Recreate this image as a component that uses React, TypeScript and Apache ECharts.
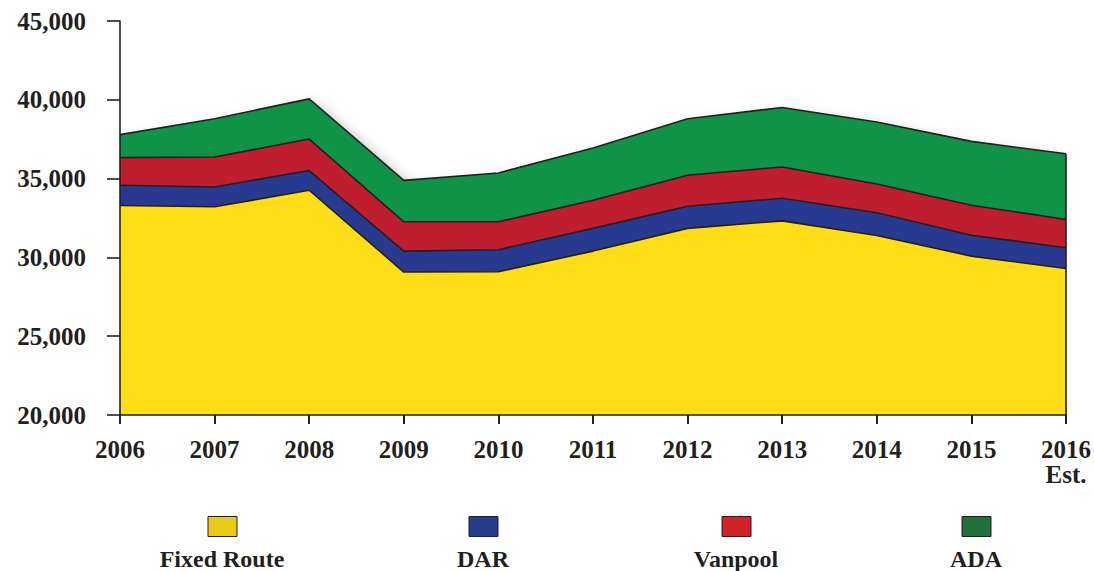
import React, { useEffect, useRef } from "react";
import * as echarts from "echarts";

const years = ["2006", "2007", "2008", "2009", "2010", "2011", "2012", "2013", "2014", "2015", "2016\nEst."];
const seriesNames = ["Fixed Route", "DAR", "Vanpool", "ADA"];
const fixedRoute = [33290, 33210, 34260, 29070, 29090, 30400, 31840, 32320, 31390, 30080, 29300];
const dar = [1290, 1260, 1250, 1330, 1400, 1440, 1410, 1430, 1440, 1330, 1310];
const vanpool = [1750, 1900, 2000, 1860, 1770, 1790, 1960, 1990, 1830, 1900, 1800];
const ada = [1460, 2430, 2550, 2630, 3100, 3310, 3590, 3770, 3930, 4050, 4170];
const yTicks = { min: 20000, max: 45000, interval: 5000 };

const areaColors = ["#FFDE17", "#283990", "#BE1E2D", "#0F9346"];
const legendColors = ["#EACA18", "#283C8E", "#D2232A", "#237038"];
const legendCenters = [222, 483, 736, 976];
const ink = "#231F20";
const fontFamily = "'Liberation Serif', 'Times New Roman', serif";

export default function App() {
  const ref = useRef<HTMLDivElement>(null);
  useEffect(() => {
    if (!ref.current) return;
    const chart = echarts.init(ref.current, undefined, { renderer: "svg" });
    const values = [fixedRoute, dar, vanpool, ada];
    const totals = years.map((_, i) => values.reduce((s, arr) => s + arr[i], 0));
    const stacked = seriesNames.map((name, k) => ({
      name,
      type: "line" as const,
      stack: "total",
      data: values[k],
      symbol: "none",
      z: 3,
      lineStyle: { color: ink, width: 1.6 },
      areaStyle: { color: areaColors[k], opacity: 1 },
      ...(k === seriesNames.length - 1
        ? {
            markLine: {
              silent: true,
              symbol: "none",
              label: { show: false },
              lineStyle: { color: ink, width: 1.6, type: "solid" },
              data: [
                [
                  { coord: [years[years.length - 1], yTicks.min] },
                  { coord: [years[years.length - 1], totals[totals.length - 1]] },
                ],
              ],
            },
          }
        : {}),
    }));
    const shadowSeries = {
      name: "shadow",
      type: "line" as const,
      data: totals,
      symbol: "none",
      z: 1,
      silent: true,
      lineStyle: { width: 0 },
      areaStyle: {
        color: "#ffffff",
        opacity: 1,
        shadowColor: "rgba(0,0,0,0.3)",
        shadowBlur: 14,
        shadowOffsetX: 7,
        shadowOffsetY: 7,
      },
    };
    const graphic: any[] = [];
    seriesNames.forEach((name, i) => {
      graphic.push({
        type: "rect",
        left: legendCenters[i] - 14.5,
        top: 516,
        shape: { width: 29, height: 20 },
        style: { fill: legendColors[i], stroke: ink, lineWidth: 1 },
      });
      graphic.push({
        type: "text",
        x: legendCenters[i],
        y: 558.5,
        style: {
          text: name,
          fill: ink,
          font: `bold 24px ${fontFamily}`,
          textAlign: "center",
          textVerticalAlign: "middle",
        },
      });
    });
    chart.setOption({
      animation: false,
      backgroundColor: "#ffffff",
      grid: { left: 120, right: 22, top: 21, bottom: 156, containLabel: false },
      xAxis: {
        type: "category",
        data: years,
        boundaryGap: false,
        axisLine: { show: true, lineStyle: { color: ink, width: 1.6 } },
        axisTick: { show: true, length: 9, lineStyle: { color: ink, width: 2 } },
        axisLabel: {
          color: ink,
          fontSize: 25,
          fontWeight: "bold",
          fontFamily,
          margin: 22,
          lineHeight: 25,
          interval: 0,
        },
        splitLine: { show: false },
        z: 5,
      },
      yAxis: {
        type: "value",
        min: yTicks.min,
        max: yTicks.max,
        interval: yTicks.interval,
        axisLine: { show: true, lineStyle: { color: ink, width: 1.6 } },
        axisTick: { show: true, length: 13, lineStyle: { color: ink, width: 1.6 } },
        axisLabel: {
          color: ink,
          fontSize: 25,
          fontWeight: "bold",
          fontFamily,
          margin: 34,
          formatter: (v: number) => v.toLocaleString("en-US"),
        },
        splitLine: { show: false },
        z: 5,
      },
      series: [shadowSeries, ...stacked],
      graphic,
    });
    return () => chart.dispose();
  }, []);
  return (
    <div
      ref={ref}
      style={{ position: "fixed", left: 0, top: 0, width: 1094, height: 571, background: "#fff" }}
    />
  );
}
